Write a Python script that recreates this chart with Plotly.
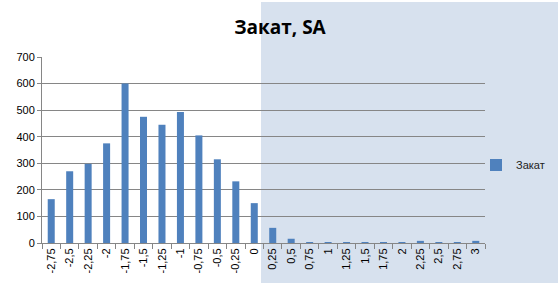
import plotly.graph_objects as go

categories = ["-2,75", "-2,5", "-2,25", "-2", "-1,75", "-1,5", "-1,25", "-1", "-0,75",
              "-0,5", "-0,25", "0", "0,25", "0,5", "0,75", "1", "1,25", "1,5", "1,75",
              "2", "2,25", "2,5", "2,75", "3"]
values = [165, 270, 298, 375, 600, 475, 445, 493, 405, 315, 232, 150, 57, 16,
          3, 3, 3, 3, 3, 3, 8, 3, 3, 8]
series_name = "Закат"
title_text = "Закат, SA"
y_ticks = [0, 100, 200, 300, 400, 500, 600, 700]

W, H = 560, 288
L, R, T, B = 42, 75, 57, 45
pw, ph = W - L - R, H - T - B

def px_x(p):
    return (p - L) / pw

def px_y(p):
    return (H - B - p) / ph

fig = go.Figure()
fig.add_trace(go.Bar(x=categories, y=values, name=series_name,
                     marker=dict(color="#4F81BD", line=dict(width=0))))

fig.add_shape(type="rect", xref="paper", yref="paper",
              x0=px_x(261), x1=px_x(558), y0=px_y(283), y1=px_y(2),
              fillcolor="#D7E1EE", line=dict(width=0), layer="below")

fig.update_layout(
    width=W, height=H,
    margin=dict(l=L, r=R, t=T, b=B, autoexpand=False),
    paper_bgcolor="white", plot_bgcolor="rgba(0,0,0,0)",
    bargap=0.62,
    showlegend=True,
    legend=dict(xref="container", yref="container", x=476 / W, y=1 - 165 / H,
                xanchor="left", yanchor="middle", itemwidth=30,
                bgcolor="rgba(0,0,0,0)", font=dict(family="Liberation Sans", size=11, color="#222")),
    title=dict(text="<b>" + title_text + "</b>", x=280 / W, xanchor="center",
               y=1 - 27 / H, yanchor="middle",
               font=dict(family="Open Sans", size=19, color="black")),
    font=dict(family="Liberation Sans", size=10, color="black"),
)
fig.update_xaxes(type="category", tickangle=-90, tickson="boundaries",
                 ticks="outside", ticklen=5, tickcolor="#868686",
                 showline=True, linecolor="#868686", linewidth=1,
                 showgrid=False, tickfont=dict(size=11))
fig.update_yaxes(range=[0, 700], tickvals=y_ticks, ticks="outside", ticklen=4,
                 tickcolor="#868686", showline=True, linecolor="#868686",
                 gridcolor="#868686", gridwidth=1, zeroline=False,
                 tickfont=dict(size=11))

fig.write_html("out.html")
